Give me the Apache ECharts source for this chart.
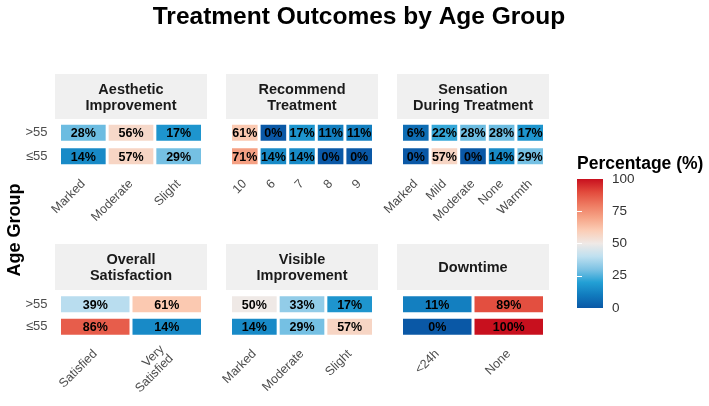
<!DOCTYPE html>
<html>
<head>
<meta charset="utf-8">
<script src="https://cdn.jsdelivr.net/npm/echarts@6/dist/echarts.min.js"></script>
<style>
  html, body { margin: 0; padding: 0; background: #fff; }
  #chart { width: 709px; height: 406px; }
</style>
</head>
<body>
<div id="chart"></div>
<script>
const FONT = '"Liberation Sans", Arial, sans-serif';

// age groups, bottom row first (category axis goes upward)
const ageGroups = ['≤55', '>55'];

const aestheticCats = ['Marked', 'Moderate', 'Slight'];
const aestheticOver = [28, 56, 17];
const aestheticUnder = [14, 57, 29];

const recommendCats = ['10', '6', '7', '8', '9'];
const recommendOver = [61, 0, 17, 11, 11];
const recommendUnder = [71, 14, 14, 0, 0];

const sensationCats = ['Marked', 'Mild', 'Moderate', 'None', 'Warmth'];
const sensationOver = [6, 22, 28, 28, 17];
const sensationUnder = [0, 57, 0, 14, 29];

const satisfactionCats = ['Satisfied', 'Very\nSatisfied'];
const satisfactionOver = [39, 61];
const satisfactionUnder = [86, 14];

const visibleCats = ['Marked', 'Moderate', 'Slight'];
const visibleOver = [50, 33, 17];
const visibleUnder = [14, 29, 57];

const downtimeCats = ['<24h', 'None'];
const downtimeOver = [11, 89];
const downtimeUnder = [0, 100];

const legendTicks = [0, 25, 50, 75, 100];

const panels = [
  { title: 'Aesthetic\nImprovement', cats: aestheticCats, over: aestheticOver, under: aestheticUnder },
  { title: 'Recommend\nTreatment', cats: recommendCats, over: recommendOver, under: recommendUnder },
  { title: 'Sensation\nDuring Treatment', cats: sensationCats, over: sensationOver, under: sensationUnder },
  { title: 'Overall\nSatisfaction', cats: satisfactionCats, over: satisfactionOver, under: satisfactionUnder },
  { title: 'Visible\nImprovement', cats: visibleCats, over: visibleOver, under: visibleUnder },
  { title: 'Downtime', cats: downtimeCats, over: downtimeOver, under: downtimeUnder },
];

// layout of the facets
const stripLeft = [55, 226, 397];
const stripWidth = 152;
const stripTop = [74, 244];
const stripHeight = [45, 46];
const gridTop = [121, 293];
const gridHeight = [47, 45];

const palette = ['#0a58a6', '#117bbe', '#23a0d5', '#7ec3e4', '#bfe0f0', '#efe9e6',
  '#fbcdb6', '#f6a487', '#ee7a61', '#e24a3c', '#c8101e'];

let myChart = echarts.init(document.getElementById('chart'));

function renderTile(params, api) {
  const c = api.coord([api.value(0), api.value(1)]);
  const s = api.size([1, 1]);
  const w = s[0] - 3;
  const h = 16;
  return {
    type: 'group',
    children: [
      {
        type: 'rect',
        shape: { x: c[0] - w / 2, y: c[1] - h / 2, width: w, height: h },
        style: { fill: api.visual('color') },
      },
      {
        type: 'text',
        x: c[0],
        y: c[1] + 1,
        style: {
          text: api.value(2) + '%',
          fill: '#000',
          font: 'bold 12.5px ' + FONT,
          align: 'center',
          verticalAlign: 'middle',
        },
      },
    ],
  };
}

const grids = [];
const xAxes = [];
const yAxes = [];
const series = [];
const graphics = [];

panels.forEach((p, i) => {
  const col = i % 3;
  const row = Math.floor(i / 3);
  grids.push({
    left: stripLeft[col] + 4.5,
    top: gridTop[row],
    width: stripWidth - 9,
    height: gridHeight[row],
  });
  xAxes.push({
    gridIndex: i,
    type: 'category',
    data: p.cats,
    axisLine: { show: false },
    axisTick: { show: false },
    splitLine: { show: false },
    axisLabel: {
      interval: 0,
      rotate: 45,
      margin: 14,
      fontSize: 12.5,
      fontFamily: FONT,
      color: '#4d4d4d',
      lineHeight: 13,
    },
  });
  yAxes.push({
    gridIndex: i,
    type: 'category',
    data: ageGroups,
    axisLine: { show: false },
    axisTick: { show: false },
    splitLine: { show: false },
    axisLabel: {
      show: col === 0,
      margin: 12,
      fontSize: 13,
      fontFamily: FONT,
      color: '#4d4d4d',
    },
  });
  const data = [];
  p.cats.forEach((c, k) => {
    data.push([k, 1, p.over[k]]);
    data.push([k, 0, p.under[k]]);
  });
  series.push({
    type: 'custom',
    name: p.title,
    xAxisIndex: i,
    yAxisIndex: i,
    encode: { x: 0, y: 1 },
    renderItem: renderTile,
    data,
  });
  graphics.push({
    type: 'rect',
    shape: { x: stripLeft[col], y: stripTop[row], width: stripWidth, height: stripHeight[row] },
    style: { fill: '#f0f0f0' },
    silent: true,
  });
  graphics.push({
    type: 'text',
    x: stripLeft[col] + stripWidth / 2,
    y: stripTop[row] + stripHeight[row] / 2 + 1,
    style: {
      text: p.title,
      font: 'bold 14.5px ' + FONT,
      fill: '#1a1a1a',
      align: 'center',
      verticalAlign: 'middle',
      lineHeight: 16,
    },
    silent: true,
  });
});

// colour bar: gradient rect + axes for its ticks and labels
const bar = { x: 577, y: 179, w: 26, h: 129 };
graphics.push({
  type: 'rect',
  z: 1,
  shape: { x: bar.x, y: bar.y, width: bar.w, height: bar.h },
  style: {
    fill: new echarts.graphic.LinearGradient(0, 1, 0, 0,
      palette.map((c, k) => ({ offset: k / (palette.length - 1), color: c }))),
  },
  silent: true,
});
grids.push({ left: bar.x, top: bar.y, width: bar.w, height: bar.h });
xAxes.push({ gridIndex: 6, type: 'value', show: false });
const barTick = {
  show: true,
  inside: true,
  length: 5,
  customValues: [25, 50, 75],
  lineStyle: { color: '#fff', width: 1 },
};
yAxes.push({
  gridIndex: 6,
  type: 'value',
  position: 'right',
  min: legendTicks[0],
  max: legendTicks[legendTicks.length - 1],
  interval: 25,
  z: 10,
  axisLine: { show: false },
  axisTick: barTick,
  splitLine: { show: false },
  axisLabel: {
    margin: 9,
    fontSize: 13.5,
    fontFamily: FONT,
    color: '#333',
    customValues: legendTicks,
  },
});
yAxes.push({
  gridIndex: 6,
  type: 'value',
  position: 'left',
  min: 0,
  max: 100,
  interval: 25,
  z: 10,
  axisLine: { show: false },
  axisTick: barTick,
  splitLine: { show: false },
  axisLabel: { show: false },
});
series.push({ type: 'scatter', xAxisIndex: 6, yAxisIndex: 6, data: [] });

graphics.push({
  type: 'text',
  x: 359,
  y: 17,
  style: {
    text: 'Treatment Outcomes by Age Group',
    font: 'bold 24.5px ' + FONT,
    fill: '#000',
    align: 'center',
    verticalAlign: 'middle',
  },
  silent: true,
});
graphics.push({
  type: 'text',
  x: 15,
  y: 230,
  rotation: Math.PI / 2,
  style: {
    text: 'Age Group',
    font: 'bold 18px ' + FONT,
    fill: '#000',
    align: 'center',
    verticalAlign: 'middle',
  },
  silent: true,
});
graphics.push({
  type: 'text',
  x: 577,
  y: 164,
  style: {
    text: 'Percentage (%)',
    font: 'bold 17.5px ' + FONT,
    fill: '#000',
    align: 'left',
    verticalAlign: 'middle',
  },
  silent: true,
});

let option = {
  backgroundColor: '#fff',
  animation: false,
  grid: grids,
  xAxis: xAxes,
  yAxis: yAxes,
  visualMap: {
    type: 'continuous',
    show: false,
    min: 0,
    max: 100,
    dimension: 2,
    seriesIndex: [0, 1, 2, 3, 4, 5],
    inRange: { color: palette },
  },
  graphic: graphics,
  series,
};
myChart.setOption(option);
</script>
</body>
</html>
